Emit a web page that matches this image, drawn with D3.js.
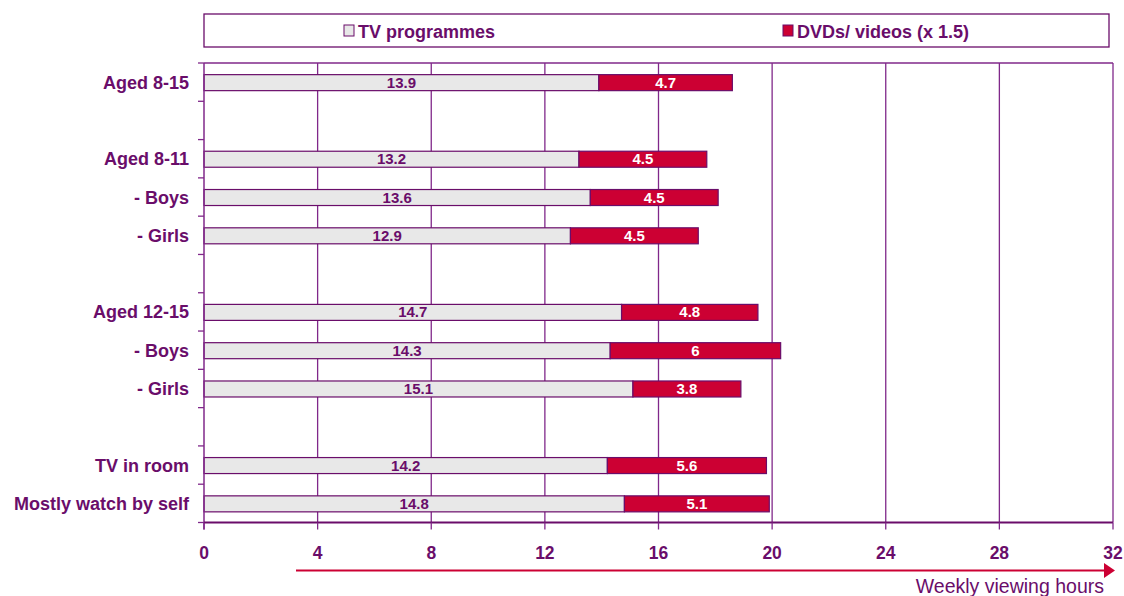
<!DOCTYPE html>
<html>
<head>
<meta charset="utf-8">
<style>
    body { margin: 0; background: #fff; }
    text { font-family: "Liberation Sans", Arial, sans-serif; }
</style>
</head>
<body>
<svg id="chart" width="1124" height="596"></svg>
<script src="https://cdn.jsdelivr.net/npm/d3@7"></script>
<script>
// rows from top to bottom, empty strings are spacer slots
const rows = ["Aged 8-15", "", "Aged 8-11", "- Boys", "- Girls", "", "Aged 12-15", "- Boys", "- Girls", "", "TV in room", "Mostly watch by self"]
const tvHours = [13.9, null, 13.2, 13.6, 12.9, null, 14.7, 14.3, 15.1, null, 14.2, 14.8]
const dvdHours = [4.7, null, 4.5, 4.5, 4.5, null, 4.8, 6, 3.8, null, 5.6, 5.1]
const xTicks = [0, 4, 8, 12, 16, 20, 24, 28, 32]
const seriesNames = ["TV programmes", "DVDs/ videos (x 1.5)"]

const purple = "#6a0d6a"
const gridCol = "#80288a"
const redCol = "#cc0033"
const greyCol = "#e8e8e8"

const svg = d3.select("#chart")
const plotLeft = 204, plotRight = 1113, plotTop = 63, plotBottom = 522.5

let x = d3.scaleLinear().domain([0, 32]).range([plotLeft, plotRight])
let y = d3.scaleBand().domain(d3.range(rows.length)).range([plotTop, plotBottom]).paddingInner(0).paddingOuter(0)
let barH = 16

// gridlines
svg.append("g").selectAll("line")
    .data(xTicks.slice(1))
    .enter().append("line")
    .attr("x1", d => x(d)).attr("x2", d => x(d))
    .attr("y1", plotTop).attr("y2", plotBottom)
    .attr("stroke", gridCol).attr("stroke-width", 1.3)

// top border
svg.append("line").attr("x1", plotLeft).attr("x2", plotRight).attr("y1", plotTop).attr("y2", plotTop)
    .attr("stroke", gridCol).attr("stroke-width", 1.3)

// bars
let rowG = svg.append("g").selectAll("g")
    .data(rows.map((r, i) => ({ i: i, label: r, tv: tvHours[i], dvd: dvdHours[i] })).filter(d => d.tv != null))
    .enter().append("g")
    .attr("transform", d => `translate(0,${y(d.i) + y.bandwidth() / 2 + 0.5})`)

rowG.append("rect")
    .attr("x", x(0)).attr("y", -barH / 2)
    .attr("width", d => x(d.tv) - x(0)).attr("height", barH)
    .attr("fill", greyCol).attr("stroke", purple).attr("stroke-width", 1.2)

rowG.append("rect")
    .attr("x", d => x(d.tv)).attr("y", -barH / 2)
    .attr("width", d => x(d.tv + d.dvd) - x(d.tv)).attr("height", barH)
    .attr("fill", redCol).attr("stroke", purple).attr("stroke-width", 1.2)

rowG.append("text")
    .attr("x", d => (x(0) + x(d.tv)) / 2).attr("y", 5)
    .attr("text-anchor", "middle").attr("font-size", 15).attr("font-weight", "bold")
    .attr("fill", purple).text(d => d.tv)

rowG.append("text")
    .attr("x", d => (x(d.tv) + x(d.tv + d.dvd)) / 2).attr("y", 5)
    .attr("text-anchor", "middle").attr("font-size", 15).attr("font-weight", "bold")
    .attr("fill", "#fff").text(d => d.dvd)

// left axis
svg.append("line").attr("x1", plotLeft).attr("x2", plotLeft).attr("y1", plotTop).attr("y2", plotBottom + 7)
    .attr("stroke", gridCol).attr("stroke-width", 1.5)
svg.append("g").selectAll("line")
    .data(d3.range(rows.length + 1))
    .enter().append("line")
    .attr("x1", plotLeft - 6).attr("x2", plotLeft)
    .attr("y1", d => plotTop + d * y.step()).attr("y2", d => plotTop + d * y.step())
    .attr("stroke", gridCol).attr("stroke-width", 1.3)

svg.append("g").selectAll("text")
    .data(rows.map((r, i) => ({ i: i, label: r })).filter(d => d.label))
    .enter().append("text")
    .attr("x", 189).attr("y", d => y(d.i) + y.bandwidth() / 2 + 6.5)
    .attr("text-anchor", "end").attr("font-size", 18).attr("font-weight", "bold")
    .attr("fill", purple).text(d => d.label)

// bottom axis
svg.append("line").attr("x1", plotLeft).attr("x2", plotRight).attr("y1", plotBottom).attr("y2", plotBottom)
    .attr("stroke", purple).attr("stroke-width", 2)
svg.append("g").selectAll("line")
    .data(xTicks)
    .enter().append("line")
    .attr("x1", d => x(d)).attr("x2", d => x(d))
    .attr("y1", plotBottom).attr("y2", plotBottom + 7)
    .attr("stroke", gridCol).attr("stroke-width", 1.3)
svg.append("g").selectAll("text")
    .data(xTicks)
    .enter().append("text")
    .attr("x", d => x(d)).attr("y", 559)
    .attr("text-anchor", "middle").attr("font-size", 17.5).attr("font-weight", "bold")
    .attr("fill", purple).text(d => d)

// arrow
svg.append("line").attr("x1", 296).attr("x2", 1106).attr("y1", 570.5).attr("y2", 570.5)
    .attr("stroke", redCol).attr("stroke-width", 2)
svg.append("path").attr("d", "M1104,563 L1115,570.5 L1104,578 Z").attr("fill", redCol)
svg.append("text").attr("x", 1104).attr("y", 593)
    .attr("text-anchor", "end").attr("font-size", 19.5)
    .attr("fill", purple).text("Weekly viewing hours")

// legend
svg.append("rect").attr("x", 204).attr("y", 14).attr("width", 905).attr("height", 33)
    .attr("fill", "#fff").attr("stroke", purple).attr("stroke-width", 1.3)
let legendX = [344, 783]
let legendFill = [greyCol, redCol]
let lg = svg.append("g").selectAll("g")
    .data(seriesNames)
    .enter().append("g")
    .attr("transform", (d, i) => `translate(${legendX[i]},31)`)
lg.append("rect").attr("x", 0).attr("y", -6).attr("width", 10).attr("height", 11)
    .attr("fill", (d, i) => legendFill[i]).attr("stroke", purple).attr("stroke-width", 1)
lg.append("text").attr("x", 14).attr("y", 6.5)
    .attr("font-size", 18).attr("font-weight", "bold").attr("fill", purple).text(d => d)
</script>
</body>
</html>
